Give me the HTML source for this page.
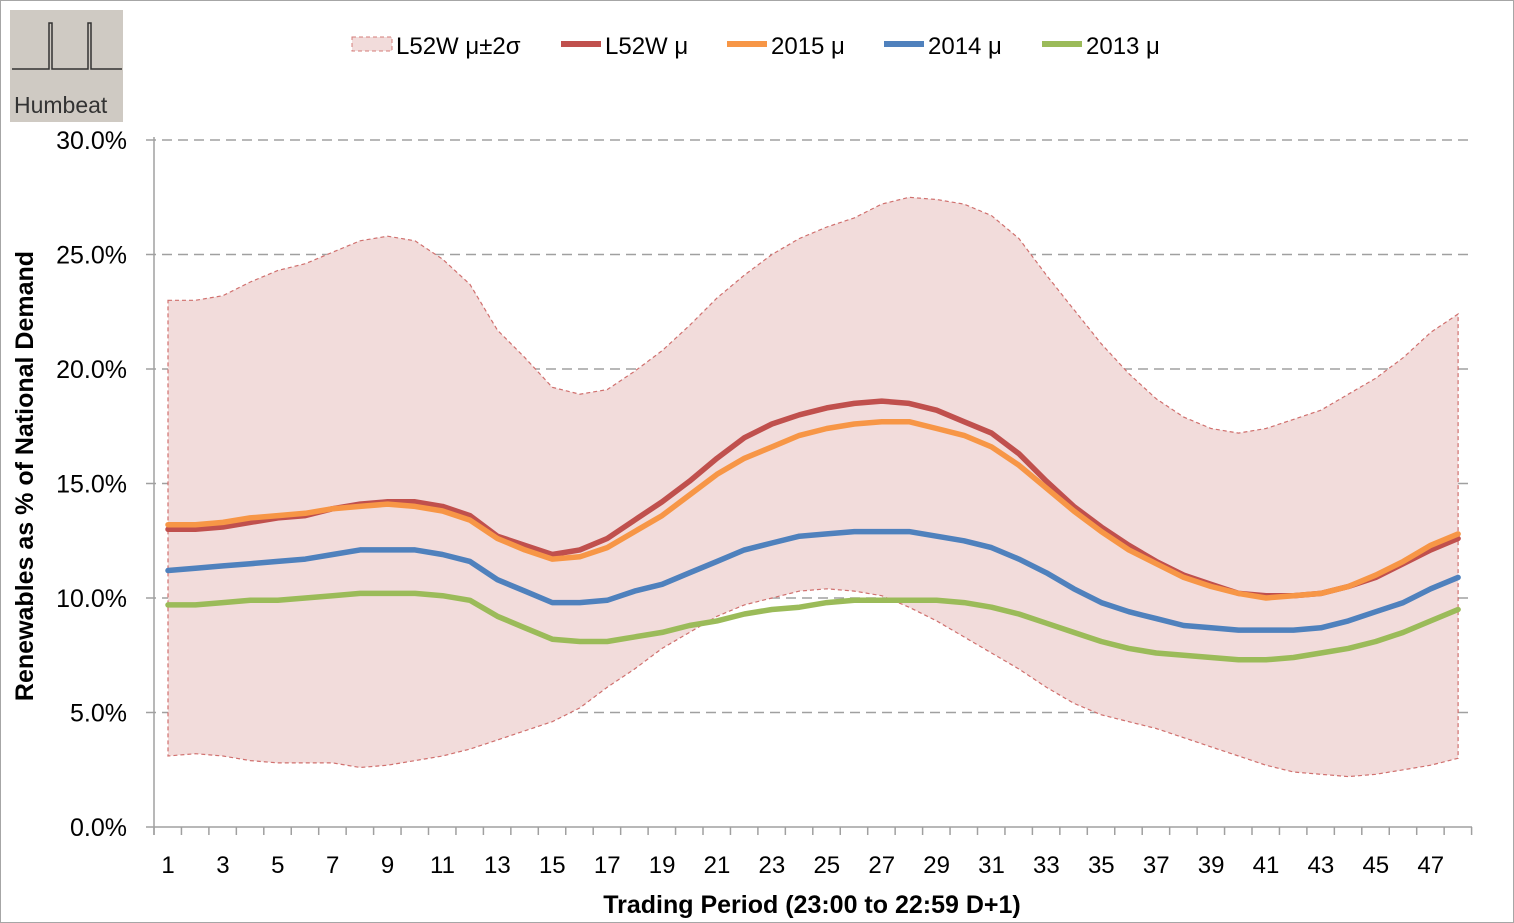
<!DOCTYPE html>
<html><head><meta charset="utf-8"><style>
body{margin:0;background:#fff;}
svg{display:block;font-family:"Liberation Sans",sans-serif;}
</style></head><body>
<svg id="s" width="1514" height="923" xmlns="http://www.w3.org/2000/svg">
<rect x="0.5" y="0.5" width="1513" height="922" fill="#fff" stroke="#a6a6a6"/>
<rect x="10" y="10" width="113" height="112" fill="#cfcac3"/>
<path d="M12 69 H49 V23 H52 V69 H88 V23 H91 V69 H122" fill="none" stroke="#333" stroke-width="1.5"/>
<text x="14" y="113" font-size="23" fill="#333">Humbeat</text>
<g id="grid"></g>
<g id="plot"></g>
<text x="812" y="913" font-size="25" font-weight="bold" text-anchor="middle">Trading Period (23:00 to 22:59 D+1)</text>
<text transform="translate(33,476) rotate(-90)" font-size="25" font-weight="bold" text-anchor="middle">Renewables as % of National Demand</text>
<g font-size="24">
<rect x="352" y="37" width="40" height="14" fill="#f2dcdb" stroke="#d47c7a" stroke-dasharray="4,3"/>
<text x="396" y="54">L52W μ±2σ</text>
<line x1="561" y1="44" x2="601" y2="44" stroke="#c0504d" stroke-width="6"/>
<text x="605" y="54">L52W μ</text>
<line x1="727" y1="44" x2="767" y2="44" stroke="#f79646" stroke-width="6"/>
<text x="771" y="54">2015 μ</text>
<line x1="884" y1="44" x2="924" y2="44" stroke="#4f81bd" stroke-width="6"/>
<text x="928" y="54">2014 μ</text>
<line x1="1042" y1="44" x2="1082" y2="44" stroke="#9bbb59" stroke-width="6"/>
<text x="1086" y="54">2013 μ</text>
</g>
</svg>
<script>
const up=[23.0,23.0,23.2,23.8,24.3,24.6,25.1,25.6,25.8,25.6,24.8,23.7,21.7,20.5,19.2,18.9,19.1,19.9,20.8,21.9,23.1,24.1,25.0,25.7,26.2,26.6,27.2,27.5,27.4,27.2,26.7,25.7,24.1,22.6,21.1,19.8,18.7,17.9,17.4,17.2,17.4,17.8,18.2,18.9,19.6,20.5,21.6,22.4];
const lo=[3.1,3.2,3.1,2.9,2.8,2.8,2.8,2.6,2.7,2.9,3.1,3.4,3.8,4.2,4.6,5.2,6.1,6.9,7.8,8.5,9.2,9.7,10.0,10.3,10.4,10.3,10.1,9.6,9.0,8.3,7.6,6.9,6.1,5.4,4.9,4.6,4.3,3.9,3.5,3.1,2.7,2.4,2.3,2.2,2.3,2.5,2.7,3.0];
const l52=[13.0,13.0,13.1,13.3,13.5,13.6,13.9,14.1,14.2,14.2,14.0,13.6,12.7,12.3,11.9,12.1,12.6,13.4,14.2,15.1,16.1,17.0,17.6,18.0,18.3,18.5,18.6,18.5,18.2,17.7,17.2,16.3,15.1,14.0,13.1,12.3,11.6,11.0,10.6,10.2,10.1,10.1,10.2,10.5,10.9,11.5,12.1,12.6];
const y15=[13.2,13.2,13.3,13.5,13.6,13.7,13.9,14.0,14.1,14.0,13.8,13.4,12.6,12.1,11.7,11.8,12.2,12.9,13.6,14.5,15.4,16.1,16.6,17.1,17.4,17.6,17.7,17.7,17.4,17.1,16.6,15.8,14.8,13.8,12.9,12.1,11.5,10.9,10.5,10.2,10.0,10.1,10.2,10.5,11.0,11.6,12.3,12.8];
const y14=[11.2,11.3,11.4,11.5,11.6,11.7,11.9,12.1,12.1,12.1,11.9,11.6,10.8,10.3,9.8,9.8,9.9,10.3,10.6,11.1,11.6,12.1,12.4,12.7,12.8,12.9,12.9,12.9,12.7,12.5,12.2,11.7,11.1,10.4,9.8,9.4,9.1,8.8,8.7,8.6,8.6,8.6,8.7,9.0,9.4,9.8,10.4,10.9];
const y13=[9.7,9.7,9.8,9.9,9.9,10.0,10.1,10.2,10.2,10.2,10.1,9.9,9.2,8.7,8.2,8.1,8.1,8.3,8.5,8.8,9.0,9.3,9.5,9.6,9.8,9.9,9.9,9.9,9.9,9.8,9.6,9.3,8.9,8.5,8.1,7.8,7.6,7.5,7.4,7.3,7.3,7.4,7.6,7.8,8.1,8.5,9.0,9.5];
const X=i=>168+i*27.45, Y=v=>827-v*22.9;
const pts=a=>a.map((v,i)=>X(i).toFixed(1)+','+Y(v).toFixed(1));
let g='';
for(let k=0;k<=6;k++){const y=Y(k*5);
 if(k>0)g+=`<line x1="146" x2="1472" y1="${y}" y2="${y}" stroke="#a0a0a0" stroke-width="1.5" stroke-dasharray="10,6"/>`;
 else g+=`<line x1="146" x2="1472" y1="${y}" y2="${y}" stroke="#a0a0a0" stroke-width="1.5"/>`;
 g+=`<text x="127" y="${y+9}" font-size="25" text-anchor="end">${(k*5).toFixed(1)}%</text>`;}
g+=`<line x1="154" x2="154" y1="137" y2="835" stroke="#a0a0a0" stroke-width="1.5"/>`;
for(let i=0;i<=48;i++){const x=154+i*27.45;g+=`<line x1="${x}" x2="${x}" y1="827" y2="835" stroke="#a0a0a0" stroke-width="1.5"/>`;}
for(let i=1;i<=48;i+=2)g+=`<text x="${X(i-1)}" y="873" font-size="24" text-anchor="middle">${i}</text>`;
document.getElementById('grid').innerHTML=g;
let p='';
const band=pts(up).concat(pts(lo).reverse());
p+=`<polygon points="${band.join(' ')}" fill="#f2dcdb" stroke="#d0706e" stroke-width="1.2" stroke-dasharray="4,3"/>`;
[[y13,'#9bbb59'],[y14,'#4f81bd'],[l52,'#c0504d'],[y15,'#f79646']].forEach(([a,c])=>{
 p+=`<polyline points="${pts(a).join(' ')}" fill="none" stroke="${c}" stroke-width="5.5" stroke-linejoin="round" stroke-linecap="round"/>`;});
document.getElementById('plot').innerHTML=p;
</script>
</body></html>
